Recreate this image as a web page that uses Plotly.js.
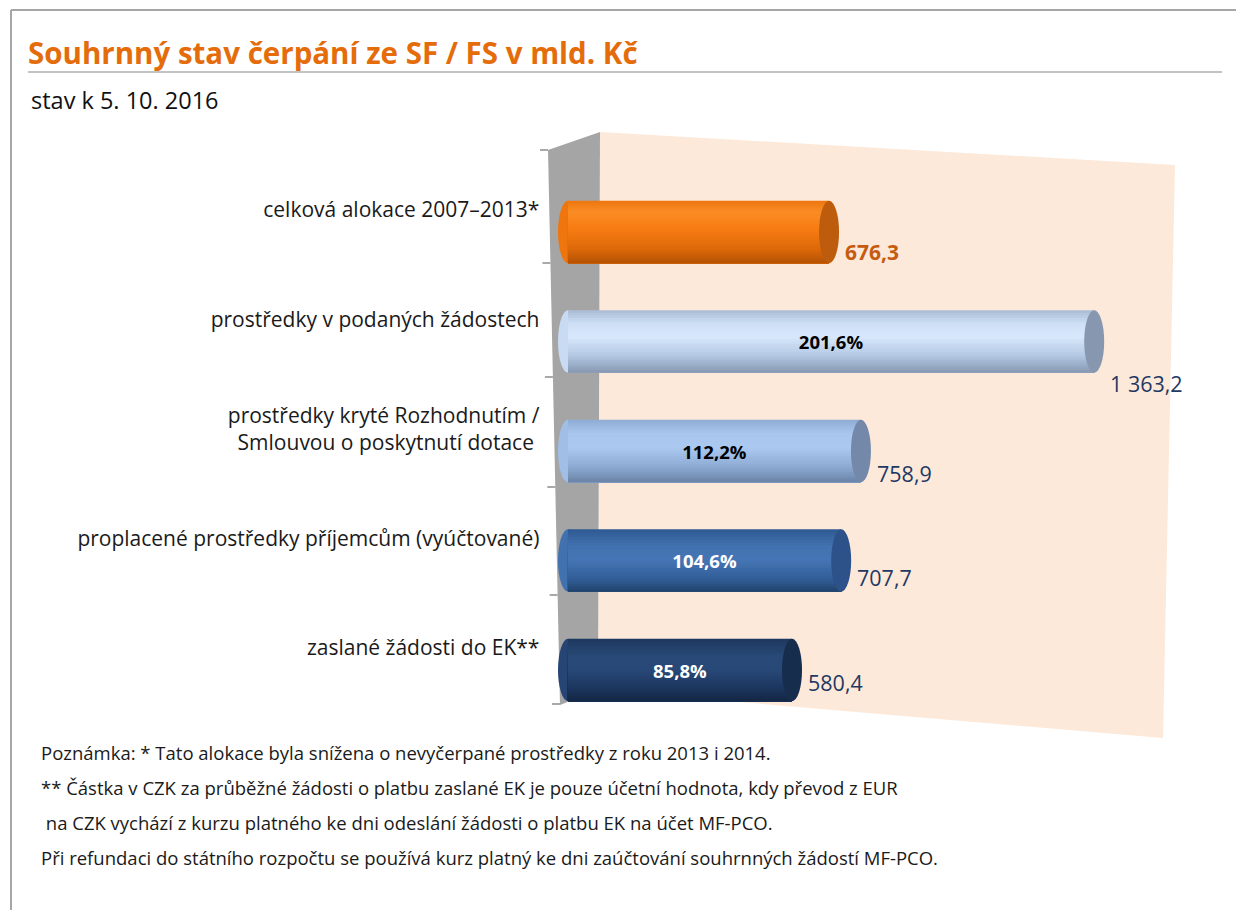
<!DOCTYPE html>
<html><head><meta charset="utf-8">
<script src="https://cdn.plot.ly/plotly-3.0.1.min.js"></script>
<style>html,body{margin:0;padding:0;background:#fff}#chart{width:1236px;height:910px}</style>
</head><body><div id="chart"></div>
<script>
// ---------- data ----------
const chartTitle = 'Souhrnný stav čerpání ze SF / FS v mld. Kč';
const subtitle = 'stav k 5. 10. 2016';
const categories = [
  'celková alokace 2007–2013*',
  'prostředky v podaných žádostech',
  'prostředky kryté Rozhodnutím /<br>Smlouvou o poskytnutí dotace ',
  'proplacené prostředky příjemcům (vyúčtované)',
  'zaslané žádosti do EK**'
];
const values = [676.3, 1363.2, 758.9, 707.7, 580.4];
const percents = [null, 201.6, 112.2, 104.6, 85.8];
const noteLines = [
  'Poznámka: * Tato alokace byla snížena o nevyčerpané prostředky z roku 2013 i 2014.',
  '** Částka v CZK za průběžné žádosti o platbu zaslané EK je pouze účetní hodnota, kdy převod z EUR',
  ' na CZK vychází z kurzu platného ke dni odeslání žádosti o platbu EK na účet MF-PCO.',
  'Při refundaci do státního rozpočtu se používá kurz platný ke dni zaúčtování souhrnných žádostí MF-PCO.'
];

// ---------- styling ----------
const W = 1236, H = 910;
const px = x => x / W, py = y => 1 - y / H;
const FONT = 'Open Sans, Noto Sans, sans-serif';
const barStops = [
  [[0,'#ec760f'],[0.18,'#fb8c26'],[0.45,'#f77c12'],[0.78,'#dc6808'],[1,'#b35305']],
  [[0,'#a8bbd4'],[0.22,'#cfe0f6'],[0.42,'#d8e8fc'],[0.72,'#b5c9e4'],[1,'#8597b1']],
  [[0,'#8eabd4'],[0.22,'#a9c7ee'],[0.45,'#aac8f0'],[0.75,'#8dabd3'],[1,'#6a83a6']],
  [[0,'#2f5a93'],[0.28,'#4272b0'],[0.5,'#4575b4'],[0.8,'#315d97'],[1,'#21436c']],
  [[0,'#1d385f'],[0.3,'#294a78'],[0.5,'#284878'],[0.8,'#1c365d'],[1,'#132643']]
];
const capColors = ['#bd5c0c','#8797b0','#7489aa','#2c5289','#172d4e'];
const pctColors = ['#000000','#000000','#000000','#ffffff','#ffffff'];
const valueDrop = [20, 42, 22, 17, 12];
const T = 0.57;          // bar thickness (category units)
const N = 24;            // gradient bands
const scale = 0.386;     // px per unit
const x0px = 568;        // pixel of value 0
const xLeftPad = 30;     // units left of zero
const capHalf = 10 / scale;

function hex2rgb(h){h=h.replace('#','');return [0,2,4].map(i=>parseInt(h.substr(i,2),16));}
function colorAt(stops,t){
  for(let j=0;j<stops.length-1;j++){
    const [t0,c0]=stops[j],[t1,c1]=stops[j+1];
    if(t>=t0&&t<=t1){
      const f=(t-t0)/(t1-t0),a=hex2rgb(c0),b=hex2rgb(c1);
      return 'rgb('+a.map((v,k)=>Math.round(v+(b[k]-v)*f)).join(',')+')';
    }
  }
  return stops[stops.length-1][1];
}
const idx = categories.map((_, i) => i);
const fmt = v => {
  const s = v.toFixed(1).split('.');
  return s[0].replace(/\B(?=(\d{3})+(?!\d))/g, ' ') + ',' + s[1];
};

const traces = [];
for (let k = 0; k < N; k++) {
  traces.push({
    type: 'bar', orientation: 'h', x: values, y: idx,
    offset: -T/2 + k*T/N, width: T - k*T/N,
    marker: {color: values.map((_, i) => colorAt(barStops[i], (k+0.5)/N)), line: {width: 0}},
    hoverinfo: 'skip', showlegend: false
  });
}
traces.push({
  type: 'bar', orientation: 'h', x: values, y: idx, width: T,
  marker: {color: 'rgba(0,0,0,0)', line: {width: 0}},
  text: percents.map(p => p == null ? '' : fmt(p) + '%'),
  textposition: 'inside', insidetextanchor: 'middle', constraintext: 'none',
  insidetextfont: {family: FONT, size: 18.5, color: pctColors, weight: 700},
  hoverinfo: 'skip', showlegend: false
});

const shapes = [];
// frame
shapes.push({type:'line', xref:'paper', yref:'paper', x0:px(11), x1:px(11), y0:py(10), y1:py(910), line:{color:'#a6a6a6', width:2}});
shapes.push({type:'line', xref:'paper', yref:'paper', x0:px(11), x1:px(1236), y0:py(10), y1:py(10), line:{color:'#a6a6a6', width:2}});
shapes.push({type:'line', xref:'paper', yref:'paper', x0:px(28), x1:px(1222), y0:py(72), y1:py(72), line:{color:'#c3c3c3', width:2}});
// walls
const path = pts => 'M' + pts.map(p => px(p[0]) + ',' + py(p[1])).join(' L') + ' Z';
shapes.push({type:'path', xref:'paper', yref:'paper', path: path([[600,132],[1175,165],[1163,738],[598,690]]), fillcolor:'#fde9d9', line:{width:0}, layer:'below'});
shapes.push({type:'path', xref:'paper', yref:'paper', path: path([[548,150],[600,132],[598,690],[560,705]]), fillcolor:'#a5a5a5', line:{width:0}, layer:'below'});
// wall ticks
[150, 263, 377, 487, 595, 704].forEach(y => {
  const e = 548 + (y - 150) / 555 * 12;
  shapes.push({type:'line', xref:'paper', yref:'paper', x0:px(e-8), x1:px(e), y0:py(y), y1:py(y), line:{color:'#8c8c8c', width:1.5}});
});
// left rounded ends and end caps
values.forEach((v, i) => {
  shapes.push({type:'circle', xref:'x', yref:'y', x0:-capHalf, x1:capHalf, y0:i-T/2, y1:i+T/2,
    fillcolor: colorAt(barStops[i], 0.55), line:{width:0}, layer:'below'});
  shapes.push({type:'circle', xref:'x', yref:'y', x0:v-capHalf, x1:v+capHalf, y0:i-T/2, y1:i+T/2,
    fillcolor: capColors[i], line:{width:0}, layer:'above'});
});

const annotations = [];
annotations.push({xref:'paper', yref:'paper', x:px(29), y:py(100), xanchor:'left', yanchor:'middle', showarrow:false,
  text: subtitle, font:{family:FONT, size:23.5, color:'#111111'}});
noteLines.forEach((t, j) => {
  annotations.push({xref:'paper', yref:'paper', x:px(39), y:py(752 + j*35), xanchor:'left', yanchor:'middle', showarrow:false,
    text: t.replace(/^ /, '&nbsp;'), font:{family:FONT, size:18.5, color:'#1a1a1a'}});
});
values.forEach((v, i) => {
  annotations.push({xref:'x', yref:'y', x:v, y:i, xanchor:'left', yanchor:'middle', showarrow:false,
    xshift: 14, yshift: -valueDrop[i], text: fmt(v),
    font: i === 0 ? {family:FONT, size:21, color:'#c55a11', weight:700} : {family:FONT, size:21.5, color:'#1f3864'}});
});

const layout = {
  width: W, height: H, margin: {l:0, r:0, t:0, b:0},
  paper_bgcolor: '#ffffff', plot_bgcolor: 'rgba(0,0,0,0)',
  barmode: 'overlay', showlegend: false,
  title: {text: chartTitle, x: px(28), xanchor: 'left', y: py(54), yanchor: 'middle',
    font: {family: FONT, size: 29.5, color: '#e46c0a', weight: 700}},
  xaxis: {domain: [px(x0px - xLeftPad*scale), px(1180)], range: [-xLeftPad, (1180 - x0px)/scale],
    showgrid:false, zeroline:false, showticklabels:false, showline:false, ticks:'', fixedrange:true},
  yaxis: {domain: [py(705), py(140)], range: [(705-232)/109.5, -(232-140)/109.5],
    tickmode:'array', tickvals: idx.map(i => i - 0.2), ticktext: categories,
    showgrid:false, zeroline:false, showline:false, ticks:'', ticklabelstandoff: 16,
    tickfont:{family:FONT, size:21, color:'#1a1a1a'}, fixedrange:true},
  shapes: shapes, annotations: annotations
};
Plotly.newPlot('chart', traces, layout, {displayModeBar:false, staticPlot:true});
</script></body></html>
